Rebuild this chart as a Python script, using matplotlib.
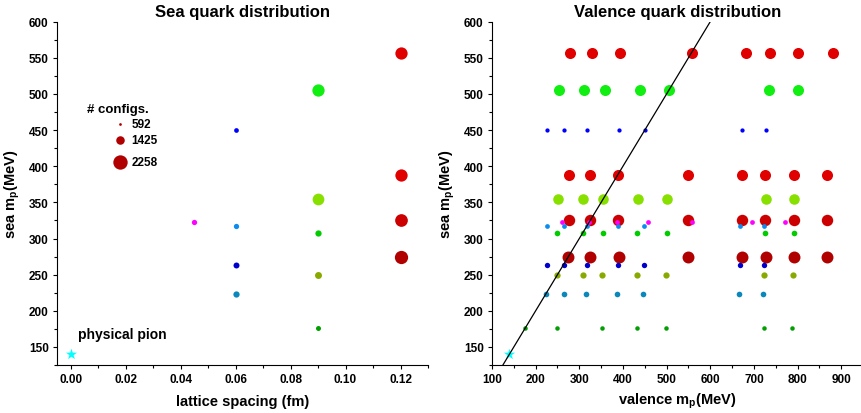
import matplotlib
matplotlib.use('Agg')
import matplotlib.pyplot as plt
from matplotlib.ticker import MultipleLocator

plt.rcParams.update({
    'font.family': ['Liberation Sans', 'DejaVu Sans'],
    'font.weight': 'bold',
    'axes.titleweight': 'bold',
    'axes.labelweight': 'bold',
    'mathtext.fontset': 'custom',
    'mathtext.rm': 'Liberation Sans:bold',
    'mathtext.bf': 'Liberation Sans:bold',
    'axes.linewidth': 0.8,
    'xtick.major.width': 0.8,
    'ytick.major.width': 0.8,
    'xtick.minor.width': 0.8,
    'ytick.minor.width': 0.8,
    'xtick.major.size': 3,
    'ytick.major.size': 3,
    'xtick.minor.size': 2,
    'ytick.minor.size': 2,
})

# ensembles: lattice spacing (fm), sea pion mass (MeV), number of configs, colour
ens_a = [0.12, 0.12, 0.12, 0.12, 0.09, 0.09, 0.09, 0.09, 0.09, 0.06, 0.06, 0.06, 0.06, 0.045]
ens_msea = [557, 388, 325, 274, 506, 354, 308, 249, 176, 450, 317, 264, 223, 323]
ens_cfgs = [1960, 1960, 2020, 2100, 1960, 1880, 1100, 1200, 920, 880, 960, 1060, 1100, 960]
ens_color = ['#e00000', '#e00000', '#cc0000', '#b00000', '#11ee11', '#88e000', '#00cc00',
             '#88aa00', '#00a000', '#0000ff', '#0a8cf0', '#0000cc', '#0a88bb', '#ff00ff']

# valence pion masses computed on each ensemble (same order as above)
valence = [
    [279, 330, 394, 558, 683, 736, 802, 882],
    [276, 325, 388, 549, 673, 726, 791, 868],
    [276, 325, 389, 549, 673, 726, 791, 868],
    [275, 325, 390, 549, 673, 727, 792, 868],
    [254, 311, 358, 438, 505, 734, 800],
    [251, 309, 354, 435, 501, 727, 793],
    [250, 309, 354, 433, 500, 726, 791],
    [249, 308, 353, 432, 499, 724, 789],
    [176, 248, 352, 432, 498, 723, 788],
    [225, 266, 318, 390, 451, 672, 728],
    [225, 265, 317, 389, 449, 669, 724],
    [225, 264, 317, 388, 448, 668, 724],
    [224, 264, 316, 387, 447, 667, 722],
    [260, 323, 387, 457, 559, 696, 772],
]

phys_a = 0.0
phys_mpi = 140

legend_cfgs = [592, 1425, 2258]


def marker_area(n, scale=1.0):
    # marker diameter grows linearly with the number of configurations
    d_px = 0.007 * n - 1.44
    d_pt = d_px * 72 / 100 * scale
    return d_pt ** 2


def style_axes(ax):
    ax.spines['top'].set_visible(False)
    ax.spines['right'].set_visible(False)
    ax.tick_params(which='both', direction='out', labelsize=8.5, pad=3)
    ax.set_ylim(125, 600)
    ax.yaxis.set_major_locator(MultipleLocator(50))
    ax.yaxis.set_minor_locator(MultipleLocator(25))
    ax.set_ylabel(r'sea m$_{\mathbf{p}}$(MeV)', fontsize=10.5, labelpad=5)


fig = plt.figure(figsize=(8.61, 4.14), dpi=100)
ax1 = fig.add_axes([57 / 861, 48 / 414, 371 / 861, 343.3 / 414])
ax2 = fig.add_axes([492 / 861, 48 / 414, 371 / 861, 343.3 / 414])

order = sorted(range(len(ens_a)), key=lambda i: -ens_cfgs[i])

# sea quark panel
for z, i in enumerate(order):
    ax1.scatter(ens_a[i], ens_msea[i], s=marker_area(ens_cfgs[i]), c=ens_color[i],
                linewidths=0, zorder=3 + z, clip_on=False)
ax1.scatter(phys_a, phys_mpi, marker='*', s=70, c='#00ffff', linewidths=0, zorder=30, clip_on=False)
ax1.text(0.0025, 168, 'physical pion', fontsize=10, va='center', ha='left')

style_axes(ax1)
ax1.set_xlim(-0.005, 0.13)
ax1.xaxis.set_major_locator(MultipleLocator(0.02))
ax1.xaxis.set_minor_locator(MultipleLocator(0.01))
ax1.xaxis.set_major_formatter(matplotlib.ticker.FormatStrFormatter('%.2f'))
ax1.set_xlabel('lattice spacing (fm)', fontsize=10.5, labelpad=6)
ax1.set_title('Sea quark distribution', fontsize=12, pad=4)

# size key
ax1.text(0.081, 0.745, '# configs.', transform=ax1.transAxes, fontsize=9.5, va='center')
for n, yk in zip(legend_cfgs, [0.703, 0.6545, 0.590]):
    ax1.scatter(0.1707, yk, s=marker_area(n), c='#b00000', linewidths=0,
                transform=ax1.transAxes, zorder=5, clip_on=False)
    ax1.text(0.2, yk, str(n), transform=ax1.transAxes, fontsize=8.5, va='center')

# valence quark panel
for z, i in enumerate(order):
    ax2.scatter(valence[i], [ens_msea[i]] * len(valence[i]), s=marker_area(ens_cfgs[i], 0.9),
                c=ens_color[i], linewidths=0, zorder=3 + z)
ax2.scatter(phys_mpi, phys_mpi, marker='*', s=70, c='#00ffff', linewidths=0, zorder=30, clip_on=False)
ax2.plot([100, 650], [100, 650], color='black', lw=0.9, zorder=40)

style_axes(ax2)
ax2.set_xlim(100, 950)
ax2.xaxis.set_major_locator(MultipleLocator(100))
ax2.xaxis.set_minor_locator(MultipleLocator(50))
ax2.set_xlabel(r'valence m$_{\mathbf{p}}$(MeV)', fontsize=10.5, labelpad=4)
ax2.set_title('Valence quark distribution', fontsize=12, pad=4)

fig.savefig('out.png', dpi=100)
